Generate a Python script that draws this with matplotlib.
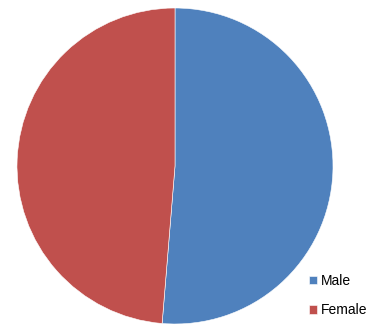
import matplotlib.pyplot as plt

labels = ['Male', 'Female']
shares = [51.3, 48.7]
colors = ['#4F81BD', '#C0504D']

W, H = 369, 327
fig = plt.figure(figsize=(W / 100, H / 100), dpi=100)
fig.patch.set_facecolor('white')

# pie centre ~ (175, 166) px, radius ~158 px
cx, cy, r = 175, 166, 158
ax = fig.add_axes([(cx - r) / W, (H - cy - r) / H, 2 * r / W, 2 * r / H])
wedges, _ = ax.pie(shares, colors=colors, startangle=90, counterclock=False,
                   radius=1, wedgeprops=dict(edgecolor='white', linewidth=0.4))
ax.set_xlim(-1, 1)
ax.set_ylim(-1, 1)
ax.set_aspect('auto')
ax.axis('off')

fig.legend(wedges, labels, loc='upper left', bbox_to_anchor=(302 / W, 1 - 267 / H),
           frameon=False, handlelength=0.58, handleheight=0.58,
           handletextpad=0.25, labelspacing=1.1, borderpad=0,
           prop={'family': 'Liberation Sans', 'size': 10})

fig.savefig('out.png', dpi=100)
